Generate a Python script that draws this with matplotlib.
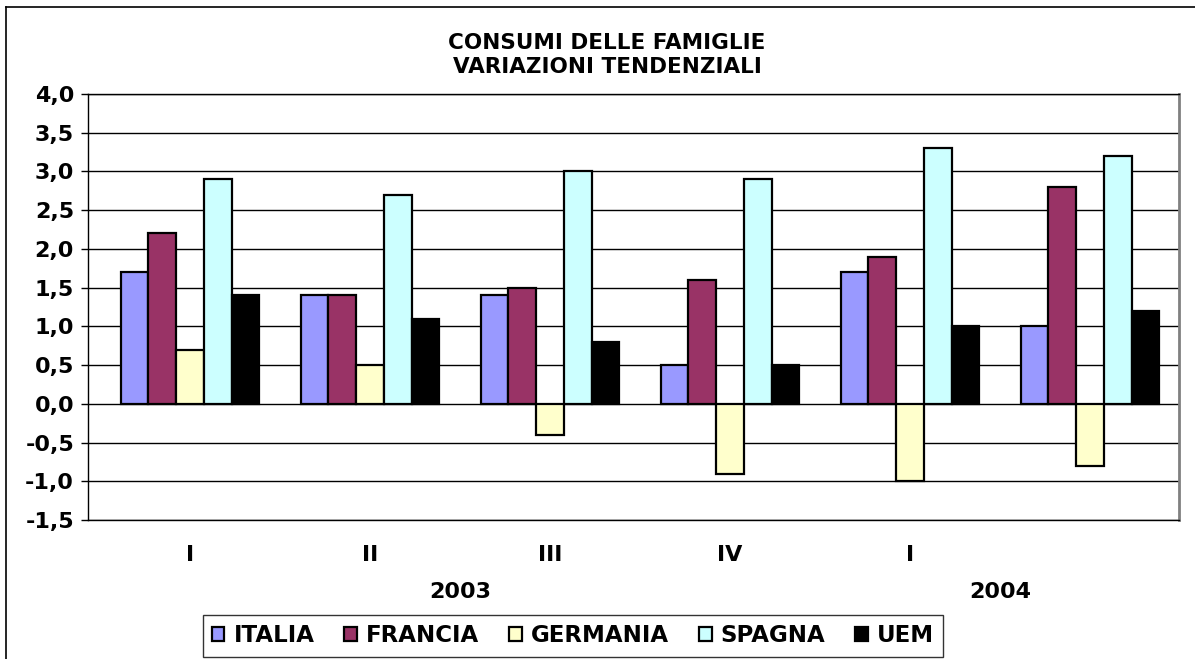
import matplotlib
matplotlib.use("Agg")
import matplotlib.pyplot as plt
import numpy as np
from matplotlib.lines import Line2D

categories = ["I", "II", "III", "IV", "I", ""]
years = ["2003", "2004"]
series = ["ITALIA", "FRANCIA", "GERMANIA", "SPAGNA", "UEM"]
italia = [1.7, 1.4, 1.4, 0.5, 1.7, 1.0]
francia = [2.2, 1.4, 1.5, 1.6, 1.9, 2.8]
germania = [0.7, 0.5, -0.4, -0.9, -1.0, -0.8]
spagna = [2.9, 2.7, 3.0, 2.9, 3.3, 3.2]
uem = [1.4, 1.1, 0.8, 0.5, 1.0, 1.2]
colors = ["#9999FF", "#993366", "#FFFFCC", "#CCFFFF", "#000000"]
yticks = [-1.5, -1.0, -0.5, 0.0, 0.5, 1.0, 1.5, 2.0, 2.5, 3.0, 3.5, 4.0]

values = [italia, francia, germania, spagna, uem]

fig = plt.figure(figsize=(11.95, 6.59), dpi=100)
W, H = 1195, 659
ax = fig.add_axes([88 / W, 1 - 520 / H, (1179 - 88) / W, (520 - 94) / H])

x = np.arange(len(categories))
bw = 0.77 / 5
for i, (name, vals, c) in enumerate(zip(series, values, colors)):
    ax.bar(x + (i - 2) * bw, vals, width=bw, color=c, edgecolor="black",
           linewidth=1.6, label=name, zorder=3)

ax.set_ylim(-1.5, 4.0)
ax.set_xlim(-0.567, 5.494)
ax.set_yticks(yticks)
ax.set_yticklabels([f"{v:.1f}".replace(".", ",") for v in yticks],
                   fontsize=16, fontweight="bold")
ax.yaxis.grid(True, color="black", linewidth=1.0, zorder=0)
ax.set_axisbelow(True)
ax.tick_params(axis="y", length=5, width=1, pad=5)
ax.set_xticks(x)
ax.set_xticklabels(categories, fontsize=16, fontweight="bold")
ax.tick_params(axis="x", length=0, pad=18)
for s in ["left", "top", "bottom"]:
    ax.spines[s].set_color("black")
    ax.spines[s].set_linewidth(1.0)
ax.spines["right"].set_color("#808080")
ax.spines["right"].set_linewidth(2.0)

# year labels
ax.text(1.5, -0.17, years[0], transform=ax.get_xaxis_transform(),
        ha="center", va="center", fontsize=16, fontweight="bold")
ax.text(4.5, -0.17, years[1], transform=ax.get_xaxis_transform(),
        ha="center", va="center", fontsize=16, fontweight="bold")

fig.text(607 / W, 1 - 55 / H, "CONSUMI DELLE FAMIGLIE\nVARIAZIONI TENDENZIALI",
         ha="center", va="center", fontsize=15.5, fontweight="bold",
         linespacing=1.2)

# outer border (left and top)
fig.add_artist(Line2D([6 / W, 6 / W], [0, 1 - 7 / H], transform=fig.transFigure,
                      color="black", linewidth=1.2))
fig.add_artist(Line2D([6 / W, 1], [1 - 7 / H, 1 - 7 / H], transform=fig.transFigure,
                      color="black", linewidth=1.2))

leg = fig.legend(loc="center", bbox_to_anchor=(573 / W, 1 - 636 / H), ncol=5,
                 frameon=True, fancybox=False, edgecolor="black",
                 prop={"weight": "bold", "size": 16.5}, handlelength=0.55,
                 handleheight=0.55, handletextpad=0.4, columnspacing=1.3,
                 borderpad=0.4)
leg.get_frame().set_linewidth(1.0)

fig.savefig("out.png", dpi=100)
